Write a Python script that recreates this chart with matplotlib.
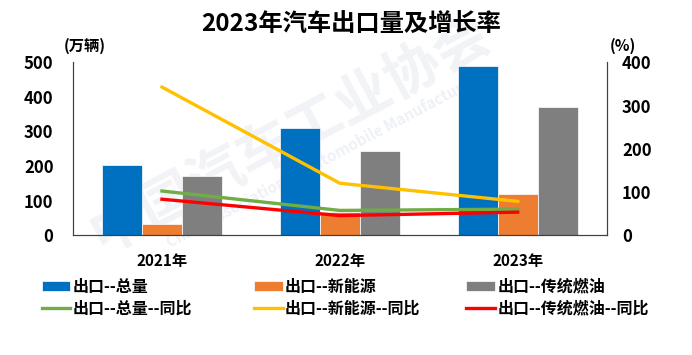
import matplotlib
matplotlib.use("Agg")
import matplotlib.pyplot as plt
import numpy as np

plt.rcParams["font.family"] = ["Noto Sans CJK SC", "DejaVu Sans"]
plt.rcParams["font.weight"] = "bold"

# data
years = ["2021年", "2022年", "2023年"]
total = [202, 311, 491]
nev = [31, 68, 120]
ice = [171, 243, 370]
total_yoy = [102, 57, 60]
nev_yoy = [343, 120, 78]
ice_yoy = [83, 45, 53]

blue = "#0070C0"
orange = "#ED7D31"
gray = "#7F7F7F"
green = "#70AD47"
yellow = "#FFC000"
red = "#FF0000"

fig = plt.figure(figsize=(6.92, 3.55), dpi=100)

# faint watermark behind the chart
bg = fig.add_axes([0, 0, 1, 1], zorder=-1)
bg.axis("off")
bg.text(0.42, 0.62, "中国汽车工业协会", fontsize=40, color="#f1f3f7", rotation=28,
        ha="center", va="center")
bg.text(0.47, 0.55, "China Association of Automobile Manufacturers", fontsize=11,
        color="#eef1f6", rotation=28, ha="center", va="center")

ax = fig.add_axes([0.1055, 0.338, 0.7712, 0.486])
ax2 = ax.twinx()

x = np.arange(len(years))
w = 0.225
b1 = ax.bar(x - w, total, w, color=blue, edgecolor="white", linewidth=0.5, label="出口--总量")
b2 = ax.bar(x, nev, w, color=orange, edgecolor="white", linewidth=0.5, label="出口--新能源")
b3 = ax.bar(x + w, ice, w, color=gray, edgecolor="white", linewidth=0.5, label="出口--传统燃油")

l1, = ax2.plot(x, total_yoy, color=green, lw=2.4, label="出口--总量--同比")
l2, = ax2.plot(x, nev_yoy, color=yellow, lw=2.4, label="出口--新能源--同比")
l3, = ax2.plot(x, ice_yoy, color=red, lw=2.4, label="出口--传统燃油--同比")

ax.set_xlim(-0.5, 2.5)
ax.set_ylim(0, 500)
ax2.set_ylim(0, 400)
ax.set_yticks(range(0, 501, 100))
ax2.set_yticks(range(0, 401, 100))
ax.set_xticks(x)
ax.set_xticklabels(years)

for a in (ax, ax2):
    a.spines["top"].set_visible(False)
    a.patch.set_visible(False)
for s in ("left", "right", "bottom"):
    ax2.spines[s].set_color("#404040")
    ax.spines[s].set_color("#404040")
ax.tick_params(axis="y", length=0, pad=14, labelsize=12)
ax2.tick_params(axis="y", length=0, pad=11, labelsize=12)
ax.tick_params(axis="x", length=0, pad=13, labelsize=11)
for lab in ax.get_yticklabels() + ax2.get_yticklabels() + ax.get_xticklabels():
    lab.set_fontweight("bold")

fig.text(0.507, 0.93, "2023年汽车出口量及增长率", fontsize=17.5, fontweight="bold",
         ha="center", va="center")
fig.text(0.122, 0.872, "(万辆)", fontsize=11, fontweight="bold", ha="center", va="center")
fig.text(0.9, 0.872, "(%)", fontsize=11, fontweight="bold", ha="center", va="center")

# legend, three columns placed separately
for hs, xa in (((b1, l1), 0.060), ((b2, l2), 0.367), ((b3, l3), 0.674)):
    fig.legend(handles=list(hs), loc="upper left", bbox_to_anchor=(xa, 0.215),
               frameon=False, handlelength=1.8, handleheight=0.6, handletextpad=0.15,
               labelspacing=0.35, borderaxespad=0, borderpad=0,
               prop={"size": 11.5, "weight": "bold"})

fig.savefig("out.png", dpi=100)
